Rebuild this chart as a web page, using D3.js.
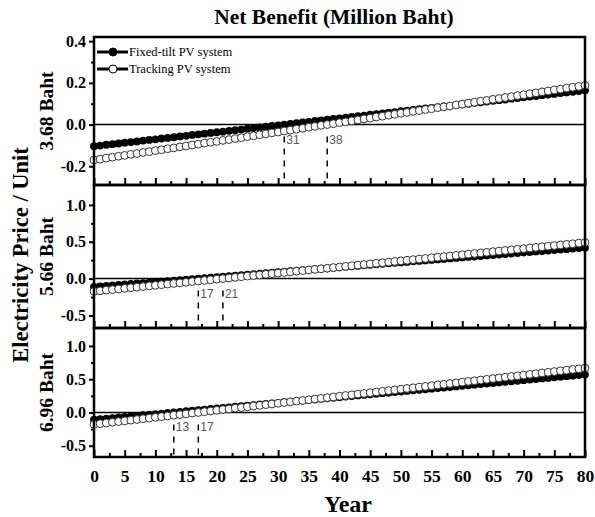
<!DOCTYPE html>
<html>
<head>
<meta charset="utf-8">
<script src="https://cdn.jsdelivr.net/npm/d3@7"></script>
<style>
  body { margin: 0; background: #fff; }
  svg text { font-family: "Liberation Serif", "Times New Roman", serif; }
</style>
</head>
<body>
<div id="chart"></div>
<script>
// Años (eje x)
const years = d3.range(0, 81);

// Precio de electricidad por panel
const priceLabels = ["3.68 Baht", "5.66 Baht", "6.96 Baht"];
const seriesNames = ["Fixed-tilt PV system", "Tracking PV system"];

// Beneficio neto (millones de Baht), panel 3.68 Baht
const fixed368 = [-0.104,-0.101,-0.097,-0.094,-0.091,-0.087,-0.084,-0.081,-0.077,-0.074,
  -0.071,-0.067,-0.064,-0.061,-0.057,-0.054,-0.050,-0.047,-0.044,-0.040,
  -0.037,-0.034,-0.030,-0.027,-0.024,-0.020,-0.017,-0.014,-0.010,-0.007,
  -0.004,0.000,0.003,0.007,0.010,0.013,0.017,0.020,0.023,0.027,
  0.030,0.033,0.037,0.040,0.043,0.047,0.050,0.053,0.057,0.060,
  0.064,0.067,0.070,0.074,0.077,0.080,0.084,0.087,0.090,0.094,
  0.097,0.100,0.104,0.107,0.110,0.114,0.117,0.120,0.124,0.127,
  0.131,0.134,0.137,0.141,0.144,0.147,0.151,0.154,0.157,0.161,0.164];
const tracking368 = [-0.170,-0.166,-0.161,-0.157,-0.152,-0.148,-0.143,-0.139,-0.134,-0.130,
  -0.125,-0.121,-0.116,-0.112,-0.107,-0.103,-0.098,-0.094,-0.089,-0.085,
  -0.081,-0.076,-0.072,-0.067,-0.063,-0.058,-0.054,-0.049,-0.045,-0.040,
  -0.036,-0.031,-0.027,-0.022,-0.018,-0.013,-0.009,-0.004,0.000,0.004,
  0.009,0.013,0.018,0.022,0.027,0.031,0.036,0.040,0.045,0.049,
  0.054,0.058,0.063,0.067,0.072,0.076,0.081,0.085,0.089,0.094,
  0.098,0.103,0.107,0.112,0.116,0.121,0.125,0.130,0.134,0.139,
  0.143,0.148,0.152,0.157,0.161,0.166,0.170,0.175,0.179,0.183,0.188];

// Panel 5.66 Baht
const fixed566 = [-0.113,-0.106,-0.100,-0.093,-0.086,-0.080,-0.073,-0.066,-0.060,-0.053,
  -0.046,-0.040,-0.033,-0.026,-0.020,-0.013,-0.006,0.000,0.007,0.014,
  0.020,0.027,0.034,0.040,0.047,0.054,0.060,0.067,0.074,0.080,
  0.087,0.094,0.100,0.107,0.114,0.120,0.127,0.134,0.140,0.147,
  0.154,0.160,0.167,0.174,0.180,0.187,0.194,0.200,0.207,0.214,
  0.220,0.227,0.234,0.240,0.247,0.254,0.260,0.267,0.274,0.280,
  0.287,0.294,0.300,0.307,0.314,0.320,0.327,0.334,0.340,0.347,
  0.354,0.360,0.367,0.374,0.380,0.387,0.394,0.400,0.407,0.414,0.420];
const tracking566 = [-0.174,-0.166,-0.157,-0.149,-0.141,-0.133,-0.124,-0.116,-0.108,-0.099,
  -0.091,-0.083,-0.074,-0.066,-0.058,-0.050,-0.041,-0.033,-0.025,-0.016,
  -0.008,0.000,0.009,0.017,0.025,0.034,0.042,0.050,0.058,0.067,
  0.075,0.083,0.092,0.100,0.108,0.117,0.125,0.133,0.141,0.150,
  0.158,0.166,0.175,0.183,0.191,0.200,0.208,0.216,0.224,0.233,
  0.241,0.249,0.258,0.266,0.274,0.283,0.291,0.299,0.307,0.316,
  0.324,0.332,0.341,0.349,0.357,0.366,0.374,0.382,0.390,0.399,
  0.407,0.415,0.424,0.432,0.440,0.449,0.457,0.465,0.473,0.482,0.490];

// Panel 6.96 Baht
const fixed696 = [-0.110,-0.102,-0.093,-0.085,-0.076,-0.068,-0.059,-0.051,-0.042,-0.034,
  -0.025,-0.017,-0.008,0.001,0.009,0.018,0.026,0.035,0.043,0.052,
  0.060,0.069,0.077,0.086,0.094,0.103,0.111,0.120,0.128,0.137,
  0.145,0.154,0.162,0.171,0.179,0.188,0.196,0.205,0.213,0.222,
  0.230,0.239,0.247,0.256,0.264,0.273,0.281,0.290,0.298,0.307,
  0.315,0.324,0.332,0.341,0.349,0.358,0.366,0.375,0.383,0.392,
  0.400,0.409,0.417,0.426,0.434,0.443,0.451,0.460,0.468,0.477,
  0.485,0.494,0.502,0.511,0.519,0.528,0.536,0.545,0.553,0.562,0.570];
const tracking696 = [-0.180,-0.169,-0.159,-0.148,-0.138,-0.127,-0.116,-0.106,-0.095,-0.085,
  -0.074,-0.063,-0.053,-0.042,-0.032,-0.021,-0.010,0.000,0.011,0.021,
  0.032,0.043,0.053,0.064,0.074,0.085,0.096,0.106,0.117,0.127,
  0.138,0.149,0.159,0.170,0.180,0.191,0.202,0.212,0.223,0.233,
  0.244,0.255,0.265,0.276,0.286,0.297,0.308,0.318,0.329,0.339,
  0.350,0.361,0.371,0.382,0.392,0.403,0.414,0.424,0.435,0.445,
  0.456,0.467,0.477,0.488,0.498,0.509,0.520,0.530,0.541,0.551,
  0.562,0.573,0.583,0.594,0.604,0.615,0.626,0.636,0.647,0.657,0.668];

// Año de recuperación (fixed, tracking)
const breakEven = [[31, 38], [17, 21], [13, 17]];

// Ejes
const yDomains = [[-0.29, 0.42], [-0.67, 1.27], [-0.67, 1.27]];
const yTicks = [[-0.2, 0.0, 0.2, 0.4], [-0.5, 0.0, 0.5, 1.0], [-0.5, 0.0, 0.5, 1.0]];
const yMinorTicks = [[-0.1, 0.1, 0.3], [-0.25, 0.25, 0.75], [-0.25, 0.25, 0.75]];
const xTicks = d3.range(0, 81, 5);
const xMinorTicks = d3.range(2.5, 80, 5);

const panelsData = [
  { fixed: fixed368, tracking: tracking368 },
  { fixed: fixed566, tracking: tracking566 },
  { fixed: fixed696, tracking: tracking696 }
];

// Configuración del gráfico
const W = 595, H = 517;
const left = 94, right = 585;
const panelTops = [37, 185, 328];
const panelBottoms = [185, 328, 457];

const svg = d3.select("#chart").append("svg")
  .attr("width", W)
  .attr("height", H);

const x = d3.scaleLinear().domain([0, 80]).range([left, right]);

// Título
svg.append("text")
  .attr("x", 334)
  .attr("y", 24)
  .attr("text-anchor", "middle")
  .style("font-size", "21.5px")
  .style("font-weight", "bold")
  .text("Net Benefit (Million Baht)");

// Etiqueta eje y general
svg.append("text")
  .attr("transform", "translate(28,255) rotate(-90)")
  .attr("text-anchor", "middle")
  .style("font-size", "22.5px")
  .style("font-weight", "bold")
  .text("Electricity Price / Unit");

// Etiqueta eje x
svg.append("text")
  .attr("x", 348)
  .attr("y", 512)
  .attr("text-anchor", "middle")
  .style("font-size", "24px")
  .style("font-weight", "bold")
  .text("Year");

panelsData.forEach((p, i) => {
  const top = panelTops[i], bottom = panelBottoms[i];
  const y = d3.scaleLinear().domain(yDomains[i]).range([bottom, top]);
  const g = svg.append("g");

  // Eje y (ticks hacia afuera)
  const yAxis = g.append("g")
    .attr("transform", `translate(${left},0)`)
    .call(d3.axisLeft(y).tickValues(yTicks[i]).tickSize(5).tickPadding(3)
      .tickFormat(d => d.toFixed(1)));
  yAxis.select(".domain").remove();
  yAxis.selectAll("line").attr("stroke-width", 2);
  yAxis.selectAll("text")
    .style("font-family", "'Liberation Serif', serif")
    .style("font-size", "16px")
    .style("font-weight", "bold")
    .attr("fill", "#000");

  const yMinor = g.append("g")
    .attr("transform", `translate(${left},0)`)
    .call(d3.axisLeft(y).tickValues(yMinorTicks[i]).tickSize(3).tickFormat(""));
  yMinor.select(".domain").remove();
  yMinor.selectAll("line").attr("stroke-width", 2);

  // Eje x (ticks hacia adentro)
  const xAxis = g.append("g")
    .attr("transform", `translate(0,${bottom})`)
    .call(d3.axisBottom(x).tickValues(xTicks).tickSizeInner(-7).tickSizeOuter(0)
      .tickPadding(13).tickFormat(i === 2 ? d3.format("d") : ""));
  xAxis.select(".domain").remove();
  xAxis.selectAll("line").attr("stroke-width", 2);
  xAxis.selectAll("text")
    .style("font-family", "'Liberation Serif', serif")
    .style("font-size", "17.5px")
    .style("font-weight", "bold")
    .attr("fill", "#000");

  const xMinor = g.append("g")
    .attr("transform", `translate(0,${bottom})`)
    .call(d3.axisBottom(x).tickValues(xMinorTicks).tickSizeInner(-4).tickSizeOuter(0).tickFormat(""));
  xMinor.select(".domain").remove();
  xMinor.selectAll("line").attr("stroke-width", 2);

  // Línea cero
  g.append("line")
    .attr("x1", left).attr("x2", right)
    .attr("y1", y(0)).attr("y2", y(0))
    .attr("stroke", "#000")
    .attr("stroke-width", 1.5);

  // Líneas punteadas de recuperación
  breakEven[i].forEach(yr => {
    g.append("line")
      .attr("x1", x(yr)).attr("x2", x(yr))
      .attr("y1", y(0) + 12).attr("y2", bottom)
      .attr("stroke", "#000")
      .attr("stroke-width", 1.5)
      .attr("stroke-dasharray", "6,6");
    g.append("text")
      .attr("x", x(yr) + 2)
      .attr("y", y(0) + 19)
      .style("font-family", "'Liberation Sans', Arial, sans-serif")
      .style("font-size", "12px")
      .attr("fill", "#555")
      .text(yr);
  });

  const line = d3.line().x((d, j) => x(years[j])).y(d => y(d));

  // Fixed-tilt
  g.append("path")
    .datum(p.fixed)
    .attr("d", line)
    .attr("fill", "none")
    .attr("stroke", "#000")
    .attr("stroke-width", 3);
  g.selectAll(".fixed")
    .data(p.fixed)
    .enter().append("circle")
    .attr("class", "fixed")
    .attr("cx", (d, j) => x(years[j]))
    .attr("cy", d => y(d))
    .attr("r", 3.9)
    .attr("fill", "#000");

  // Tracking
  g.append("path")
    .datum(p.tracking)
    .attr("d", line)
    .attr("fill", "none")
    .attr("stroke", "#000")
    .attr("stroke-width", 1);
  g.selectAll(".tracking")
    .data(p.tracking)
    .enter().append("circle")
    .attr("class", "tracking")
    .attr("cx", (d, j) => x(years[j]))
    .attr("cy", d => y(d))
    .attr("r", 3.9)
    .attr("fill", "#fff")
    .attr("stroke", "#333")
    .attr("stroke-width", 1);

  // Marco
  g.append("rect")
    .attr("x", left).attr("y", top)
    .attr("width", right - left).attr("height", bottom - top)
    .attr("fill", "none")
    .attr("stroke", "#000")
    .attr("stroke-width", 2.5);

  // Etiqueta de precio
  svg.append("text")
    .attr("transform", `translate(53,${(top + bottom) / 2}) rotate(-90)`)
    .attr("text-anchor", "middle")
    .style("font-size", "19.5px")
    .style("font-weight", "bold")
    .text(priceLabels[i]);
});

// Leyenda
const legendY = [52, 69];
seriesNames.forEach((name, k) => {
  const lg = svg.append("g");
  lg.append("line")
    .attr("x1", 97).attr("x2", 128)
    .attr("y1", legendY[k]).attr("y2", legendY[k])
    .attr("stroke", "#000")
    .attr("stroke-width", 3);
  lg.append("circle")
    .attr("cx", 113).attr("cy", legendY[k])
    .attr("r", 4)
    .attr("fill", k === 0 ? "#000" : "#fff")
    .attr("stroke", "#000")
    .attr("stroke-width", 1);
  lg.append("text")
    .attr("x", 129)
    .attr("y", legendY[k] + 4)
    .style("font-size", "12.5px")
    .text(name);
});
</script>
</body>
</html>
